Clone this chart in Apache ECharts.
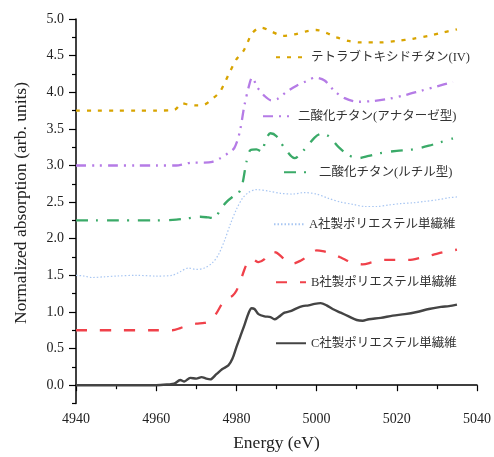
<!DOCTYPE html>
<html><head><meta charset="utf-8">
<script src="https://cdn.jsdelivr.net/npm/echarts@6/dist/echarts.min.js"></script>
<style>html,body{margin:0;padding:0;background:#fff}#c{width:494px;height:457px}</style>
</head><body><div id="c"></div>
<script>
const seriesNames = ['テトラブトキシドチタン(IV)','二酸化チタン(アナターゼ型)','二酸化チタン(ルチル型)','A社製ポリエステル単繊維','B社製ポリエステル単繊維','C社製ポリエステル単繊維'];
const xTicks = [4940,4960,4980,5000,5020,5040];
const yTicks = [0,0.5,1,1.5,2,2.5,3,3.5,4,4.5,5];
const tetra = [[4940,3.75],[4945,3.75],[4950,3.75],[4955,3.75],[4960,3.75],[4964.5,3.76],[4966.5,3.85],[4968,3.83],[4970,3.82],[4972,3.83],[4974,3.91],[4975.8,4.00],[4977,4.12],[4978.3,4.27],[4980,4.45],[4981.6,4.55],[4982.8,4.68],[4983.7,4.79],[4985,4.86],[4986.2,4.88],[4988.7,4.83],[4991.6,4.77],[4994.5,4.79],[4997.4,4.83],[4999.9,4.85],[5002.4,4.81],[5005,4.75],[5008,4.70],[5011,4.68],[5015.6,4.68],[5020,4.70],[5024,4.73],[5028,4.77],[5031,4.81],[5035,4.86]];
const anatase = [[4940,3.0],[4945,3.0],[4950,3.0],[4955,3.0],[4960,3.0],[4965,3.0],[4967,3.02],[4969,3.04],[4972,3.04],[4974,3.05],[4976,3.10],[4978,3.17],[4979.5,3.24],[4980.8,3.45],[4982,3.82],[4983.2,4.10],[4983.9,4.20],[4985.3,4.06],[4987,3.95],[4988.7,3.89],[4990.3,3.91],[4992.4,4.00],[4995,4.09],[4997.4,4.15],[4999.7,4.20],[5002,4.16],[5004.4,4.02],[5007,3.92],[5010.5,3.87],[5014,3.88],[5018,3.91],[5022,3.96],[5026,4.02],[5030,4.08],[5034,4.14]];
const rutile = [[4940,2.25],[4945,2.25],[4950,2.25],[4955,2.25],[4960,2.25],[4965,2.26],[4968,2.28],[4971,2.30],[4973,2.29],[4974.5,2.28],[4976,2.40],[4977.5,2.50],[4979,2.57],[4980.5,2.62],[4981.5,2.75],[4982.5,3.05],[4983.5,3.21],[4985,3.22],[4986.3,3.19],[4987.3,3.35],[4988.5,3.44],[4990,3.40],[4992,3.24],[4994.5,3.10],[4997,3.22],[4999.5,3.38],[5001,3.43],[5003,3.40],[5005.5,3.25],[5008,3.14],[5010.5,3.10],[5013,3.13],[5016,3.17],[5020,3.20],[5024,3.22],[5028,3.27],[5031,3.32],[5034,3.37]];
const fiberA = [[4940,1.50],[4942,1.49],[4944,1.47],[4947,1.48],[4950,1.49],[4955,1.50],[4960,1.49],[4964,1.50],[4966,1.55],[4968,1.60],[4970,1.58],[4972,1.60],[4974,1.67],[4975.5,1.78],[4977,1.97],[4978.5,2.20],[4980,2.40],[4981.5,2.55],[4983,2.63],[4985,2.67],[4988,2.65],[4991,2.62],[4994,2.61],[4997,2.63],[5000,2.61],[5003,2.55],[5006,2.50],[5009,2.47],[5012,2.44],[5015,2.44],[5018,2.46],[5021,2.48],[5024,2.49],[5027,2.51],[5030,2.53],[5033,2.56],[5035,2.57]];
const fiberB = [[4940,0.75],[4945,0.75],[4950,0.75],[4955,0.75],[4960,0.75],[4964,0.75],[4966,0.78],[4968,0.82],[4970,0.84],[4972,0.85],[4973.5,0.88],[4975,0.98],[4976.5,1.12],[4977.5,1.18],[4979,1.22],[4980,1.29],[4981,1.42],[4982,1.58],[4983,1.70],[4984,1.72],[4985.5,1.68],[4987,1.72],[4988.5,1.82],[4990,1.81],[4992,1.72],[4994,1.66],[4996,1.70],[4998,1.77],[5000,1.84],[5001.5,1.83],[5004,1.79],[5006.5,1.73],[5009,1.67],[5011.5,1.65],[5014,1.68],[5017,1.71],[5020,1.71],[5023,1.71],[5026,1.74],[5029,1.78],[5032,1.82],[5035,1.85]];
const fiberC = [[4940,0],[4945,0],[4950,0],[4955,0],[4960,0],[4963,0.01],[4964.5,0.02],[4966,0.07],[4967,0.05],[4968.5,0.10],[4970,0.09],[4971.3,0.11],[4972.5,0.09],[4973.5,0.08],[4975,0.15],[4976.5,0.22],[4978,0.27],[4979,0.36],[4980,0.52],[4981,0.67],[4982,0.82],[4983,0.98],[4983.8,1.05],[4984.5,1.04],[4985.5,0.97],[4987,0.94],[4988.5,0.93],[4989.5,0.90],[4990.5,0.93],[4992,0.99],[4993.5,1.01],[4995,1.05],[4996.5,1.08],[4998,1.09],[4999.5,1.11],[5001,1.12],[5002.5,1.09],[5004,1.04],[5006,0.99],[5008,0.94],[5010,0.89],[5011.5,0.88],[5013,0.90],[5016,0.92],[5019,0.95],[5022,0.97],[5025,1.00],[5028,1.04],[5031,1.07],[5033,1.08],[5035,1.10]];

const datas = [tetra, anatase, rutile, fiberA, fiberB, fiberC];
const colors = ['#D8A400','#B57BE6','#3AAA68','#A8C6F2','#F0414A','#444444'];
const dashes = [[4,7],[10,6,2,6,2,6],[12,8,2,9],[1.5,2],[11,13],'solid'];
const widths = [2.3,2.3,2.3,1.2,2.3,2.4];
const legendPos = [[275,58],[262,117],[283,173],[273,225],[275,283],[275,344]];

const font = "'Liberation Serif', 'Noto Sans CJK JP', serif";
const chart = echarts.init(document.getElementById('c'), null, {renderer:'canvas'});
const minorY = [];
for (let i = 0; i < yTicks.length; i++) minorY.push(yTicks[i] - 0.25);

chart.setOption({
  animation: false,
  backgroundColor: '#fff',
  grid: {left: 76, right: 16, top: 19, bottom: 48, containLabel: false},
  xAxis: {
    type: 'value', min: 4940, max: 5040, interval: 20,
    axisLine: {lineStyle: {color: '#000', width: 1.5}},
    axisTick: {length: 6, lineStyle: {color: '#000', width: 1.2}},
    minorTick: {show: true, splitNumber: 2, length: 4, lineStyle: {color: '#000', width: 1.2}},
    splitLine: {show: false},
    axisLabel: {color: '#222', fontFamily: font, fontSize: 14, margin: 9, formatter: v => String(v)},
    name: 'Energy (eV)', nameLocation: 'middle', nameGap: 31,
    nameTextStyle: {color: '#222', fontFamily: font, fontSize: 17.5}
  },
  yAxis: [{
    type: 'value', min: -0.25, max: 5,
    axisLine: {show: true, lineStyle: {color: '#000', width: 1.5}},
    axisTick: {show: true, length: 7, customValues: yTicks, lineStyle: {color: '#000', width: 1.2}},
    splitLine: {show: false},
    axisLabel: {show: true, customValues: yTicks, color: '#222', fontFamily: font, fontSize: 14, margin: 12,
      formatter: v => Number(v).toFixed(1)}
  }, {
    type: 'value', min: -0.25, max: 5, position: 'left',
    axisLine: {show: false},
    axisTick: {show: true, length: 4, customValues: minorY, lineStyle: {color: '#000', width: 1.2}},
    splitLine: {show: false},
    axisLabel: {show: false}
  }],
  legend: seriesNames.map((n, i) => ({
    data: [n], left: legendPos[i][0], top: legendPos[i][1] - 7, padding: 0,
    itemWidth: 30, itemHeight: 14, orient: 'horizontal',
    itemStyle: {opacity: 0},
    textStyle: {color: '#333', fontFamily: font, fontSize: 12.5}
  })),
  graphic: [{
    type: 'text', x: 21, y: 203, rotation: Math.PI / 2,
    style: {text: 'Normalized absorption (arb. units)', fill: '#222', font: "17.5px 'Liberation Serif'", align: 'center', verticalAlign: 'middle'}
  }],
  series: seriesNames.map((n, i) => ({
    name: n, type: 'line', data: datas[i], showSymbol: false, symbol: 'none', smooth: 0.3,
    yAxisIndex: 0,
    lineStyle: {color: colors[i], width: widths[i], type: dashes[i]},
    itemStyle: {color: colors[i]}
  }))
});
</script></body></html>
